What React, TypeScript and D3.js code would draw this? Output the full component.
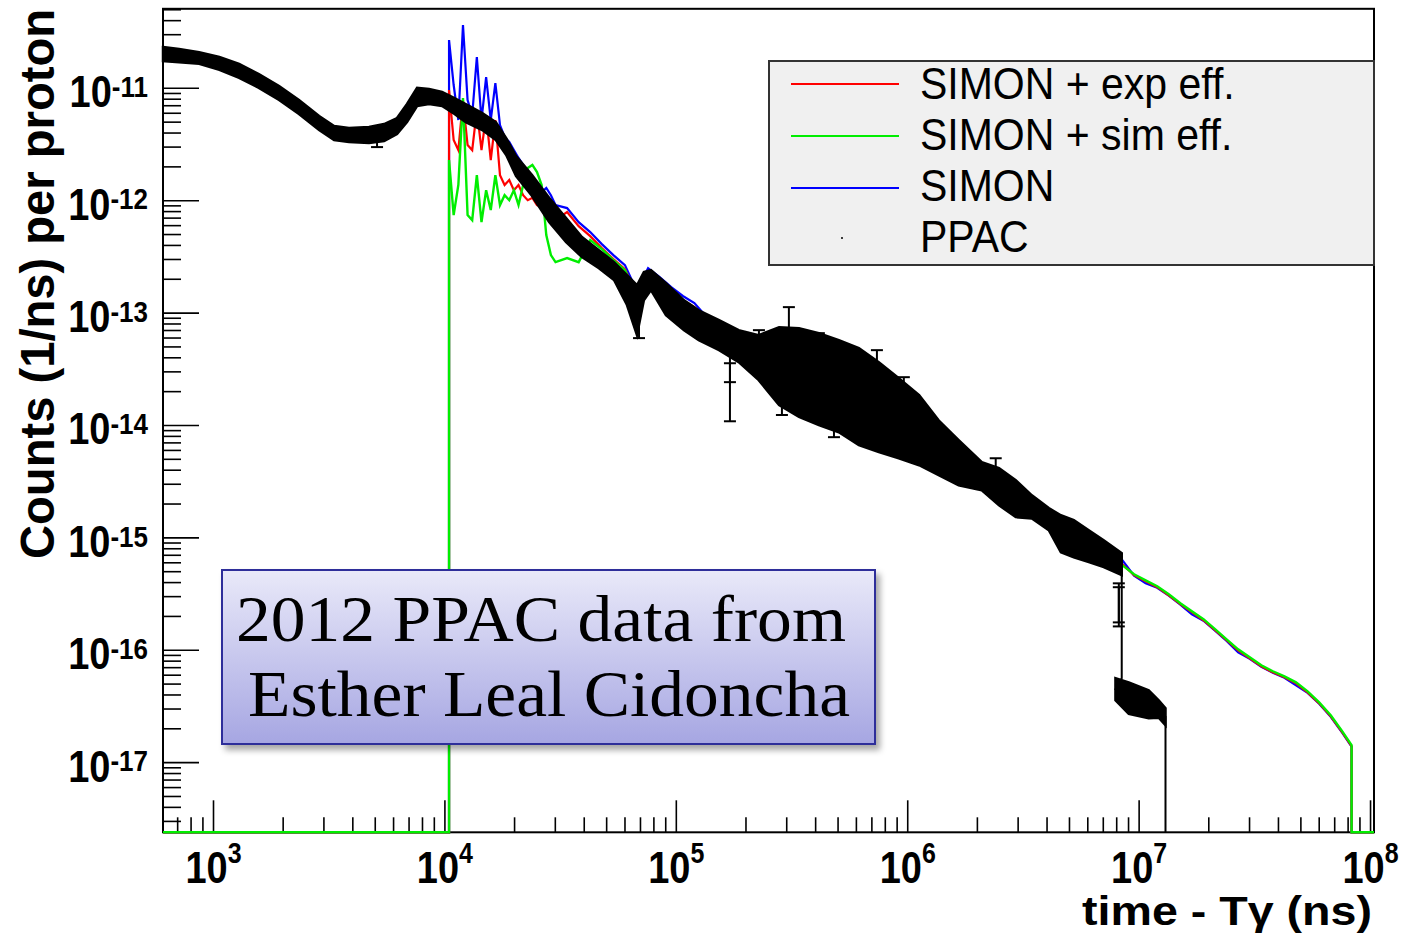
import React from "react";
import * as d3 from "d3";

// ---- Data -------------------------------------------------------------

// PPAC measurement: dense points drawn as a band between lower / upper envelope
const ppacTime = [605, 710, 867, 1060, 1290, 1570, 1920, 2340, 2860, 3320, 3850, 4700, 5460, 6210, 6860, 7580, 8540, 9720, 1.10e4, 1.23e4, 1.45e4, 1.66e4, 1.84e4, 2.03e4, 2.38e4, 2.82e4, 3.34e4, 3.91e4, 4.63e4, 5.38e4, 6.12e4, 6.76e4, 7.24e4, 7.77e4, 9.02e4, 1.08e5, 1.25e5, 1.53e5, 1.86e5, 2.27e5, 2.78e5, 3.39e5, 4.13e5, 5.04e5, 6.15e5, 7.50e5, 9.15e5, 1.12e6, 1.36e6, 1.66e6, 2.09e6, 2.48e6, 2.93e6, 3.44e6, 4.07e6, 4.59e6, 5.22e6, 6.06e6, 7.03e6, 8.41e6];
const ppacHigh = [2.33e-11, 2.24e-11, 2.10e-11, 1.90e-11, 1.65e-11, 1.34e-11, 1.05e-11, 7.87e-12, 5.67e-12, 4.62e-12, 4.43e-12, 4.52e-12, 4.81e-12, 5.44e-12, 7.25e-12, 1.01e-11, 9.86e-12, 9.27e-12, 8.20e-12, 7.25e-12, 6.03e-12, 5.01e-12, 3.61e-12, 2.50e-12, 1.69e-12, 1.06e-12, 7.01e-13, 4.75e-13, 3.63e-13, 2.84e-13, 2.18e-13, 1.77e-13, 2.32e-13, 2.41e-13, 1.85e-13, 1.30e-13, 1.06e-13, 8.66e-14, 7.05e-14, 6.37e-14, 7.50e-14, 7.35e-14, 6.63e-14, 5.74e-14, 4.88e-14, 3.66e-14, 2.64e-14, 1.86e-14, 1.11e-14, 7.40e-15, 4.71e-15, 4.17e-15, 3.26e-15, 2.39e-15, 1.84e-15, 1.59e-15, 1.44e-15, 1.17e-15, 9.53e-16, 7.30e-16];
const ppacLow = [1.75e-11, 1.71e-11, 1.65e-11, 1.46e-11, 1.24e-11, 1.01e-11, 7.87e-12, 5.90e-12, 4.25e-12, 3.47e-12, 3.33e-12, 3.26e-12, 3.40e-12, 3.92e-12, 5.01e-12, 6.96e-12, 7.25e-12, 6.96e-12, 5.90e-12, 5.01e-12, 4.25e-12, 3.47e-12, 2.55e-12, 1.66e-12, 1.10e-12, 6.45e-13, 4.28e-13, 3.15e-13, 2.51e-13, 1.97e-13, 1.18e-13, 6.37e-14, 1.30e-13, 1.60e-13, 9.59e-14, 7.05e-14, 5.74e-14, 4.68e-14, 3.66e-14, 2.53e-14, 1.52e-14, 1.19e-14, 1.01e-14, 8.71e-15, 6.68e-15, 5.79e-15, 5.11e-15, 4.43e-15, 3.61e-15, 2.94e-15, 2.65e-15, 1.95e-15, 1.53e-15, 1.49e-15, 1.17e-15, 7.46e-16, 6.73e-16, 6.08e-16, 5.49e-16, 4.66e-16];

// PPAC late-time cluster after the drop
const ppacTailTime = [7.9e6, 9.02e6, 1.10e7, 1.215e7, 1.30e7];
const ppacTailHigh = [5.64e-17, 5.18e-17, 4.40e-17, 3.59e-17, 3.05e-17];
const ppacTailLow = [3.59e-17, 2.72e-17, 2.48e-17, 2.51e-17, 2.15e-17];

// Isolated PPAC error bars
const errTime = [5090, 6.9e4, 1.705e5, 1.705e5, 3.065e5, 2.275e5, 5.85e5, 7.36e5, 9.62e5, 2.40e6, 3.40e6, 8.17e6, 8.17e6, 4.13e5, 4.80e5, 2.86e5];
const errHigh = [4.43e-12, 1.77e-13, 4.88e-14, 3.58e-14, 1.13e-13, 7.05e-14, 4.22e-14, 4.68e-14, 2.69e-14, 5.11e-15, 1.95e-15, 3.94e-16, 3.64e-16, 6.63e-14, 1.68e-14, 2.06e-14];
const errLow = [3.00e-12, 5.99e-14, 1.09e-14, 2.43e-14, 5.74e-14, 5.18e-14, 1.98e-14, 1.86e-14, 1.68e-14, 2.30e-15, 1.53e-15, 1.77e-16, 1.63e-16, 4.68e-14, 7.87e-15, 1.24e-14];

// SIMON simulations: shared bin times
const simonTime = [
  1.042e4, 1.091e4, 1.143e4, 1.197e4, 1.253e4, 1.312e4, 1.374e4, 1.439e4, 1.507e4, 1.578e4, 1.652e4, 1.730e4, 1.811e4, 1.897e4, 1.986e4, 2.080e4, 2.178e4, 2.280e4, 2.388e4, 2.500e4, 2.618e4, 2.742e4, 2.871e4, 3.006e4,
  3.373e4, 3.784e4, 4.246e4, 4.764e4, 5.346e4, 5.998e4, 6.730e4, 7.551e4, 8.472e4, 9.506e4, 1.067e5, 1.197e5, 1.343e5, 1.690e5, 2.128e5, 2.679e5, 3.373e5, 4.246e5, 5.346e5, 6.730e5, 8.472e5, 1.067e6, 1.343e6, 1.690e6, 2.128e6, 2.679e6, 3.373e6, 4.246e6, 5.346e6, 6.730e6, 8.472e6,
  9.506e6, 1.067e7, 1.197e7, 1.343e7, 1.507e7, 1.690e7, 1.897e7, 2.128e7, 2.388e7, 2.679e7, 3.006e7, 3.373e7, 3.784e7, 4.246e7, 4.764e7, 5.346e7, 5.998e7, 6.730e7, 7.551e7, 8.28e7,
];
const simonBlue = [
  2.69e-11, 1.07e-11, 5.22e-12, 3.66e-11, 7.87e-12, 5.78e-12, 1.90e-11, 5.22e-12, 1.26e-11, 5.22e-12, 1.11e-11, 4.71e-12, 3.69e-12, 3.33e-12, 2.82e-12, 2.40e-12, 2.08e-12, 1.80e-12, 1.53e-12, 1.30e-12, 1.19e-12, 1.30e-12, 1.12e-12, 9.15e-13,
  8.60e-13, 6.45e-13, 5.26e-13, 4.11e-13, 3.28e-13, 2.67e-13, 1.60e-13, 2.51e-13, 2.09e-13, 1.70e-13, 1.42e-13, 1.23e-13, 9.40e-14, 6.77e-14, 5.18e-14, 4.22e-14, 3.97e-14, 2.80e-14, 2.24e-14, 1.79e-14, 1.37e-14, 1.05e-14, 7.87e-15, 5.79e-15, 4.00e-15, 3.00e-15, 2.16e-15, 1.59e-15, 1.17e-15, 8.60e-16, 6.32e-16,
  4.60e-16, 3.94e-16, 3.60e-16, 3.06e-16, 2.54e-16, 2.09e-16, 1.83e-16, 1.49e-16, 1.21e-16, 9.59e-17, 8.40e-17, 7.13e-17, 6.31e-17, 5.68e-17, 4.88e-17, 4.18e-17, 3.34e-17, 2.56e-17, 1.84e-17, 1.39e-17,
];
const simonExpEff = [
  9.66e-12, 3.47e-12, 2.82e-12, 7.87e-12, 3.13e-12, 2.82e-12, 6.41e-12, 2.82e-12, 5.78e-12, 2.30e-12, 5.22e-12, 1.69e-12, 1.38e-12, 1.53e-12, 1.24e-12, 1.38e-12, 1.12e-12, 1.01e-12, 1.06e-12, 9.15e-13, 8.78e-13, 8.25e-13, 7.45e-13, 6.72e-13,
  7.92e-13, 5.94e-13, 4.84e-13, 3.79e-13, 3.02e-13, 2.46e-13, 1.48e-13, 2.32e-13, 1.93e-13, 1.57e-13, 1.30e-13, 1.13e-13, 8.65e-14, 6.23e-14, 4.77e-14, 3.88e-14, 3.65e-14, 2.58e-14, 2.06e-14, 1.65e-14, 1.26e-14, 9.66e-15, 7.24e-15, 5.33e-15, 3.68e-15, 2.76e-15, 1.99e-15, 1.46e-15, 1.08e-15, 7.91e-16, 5.81e-16,
  4.66e-16, 4.11e-16, 3.64e-16, 3.08e-16, 2.57e-16, 2.18e-16, 1.85e-16, 1.51e-16, 1.23e-16, 9.99e-17, 8.48e-17, 7.20e-17, 6.36e-17, 5.74e-17, 5.08e-17, 4.22e-17, 3.37e-17, 2.58e-17, 1.86e-17, 1.40e-17,
];
const simonSimEff = [
  2.30e-12, 7.45e-13, 1.38e-12, 8.20e-12, 7.45e-13, 6.72e-13, 1.69e-12, 6.45e-13, 1.24e-12, 8.25e-13, 1.69e-12, 9.15e-13, 1.12e-12, 1.01e-12, 1.24e-12, 9.15e-13, 1.38e-12, 1.95e-12, 2.08e-12, 1.80e-12, 1.38e-12, 4.94e-13, 3.28e-13, 2.84e-13,
  3.09e-13, 2.84e-13, 4.46e-13, 3.71e-13, 2.96e-13, 2.41e-13, 1.45e-13, 2.27e-13, 1.89e-13, 1.54e-13, 1.28e-13, 1.11e-13, 8.46e-14, 6.09e-14, 4.66e-14, 3.80e-14, 3.57e-14, 2.52e-14, 2.02e-14, 1.61e-14, 1.23e-14, 9.45e-15, 7.08e-15, 5.21e-15, 3.60e-15, 2.70e-15, 1.94e-15, 1.43e-15, 1.05e-15, 7.74e-16, 5.69e-16,
  4.74e-16, 4.19e-16, 3.71e-16, 3.15e-16, 2.62e-16, 2.22e-16, 1.89e-16, 1.54e-16, 1.25e-16, 1.02e-16, 8.66e-17, 7.35e-17, 6.50e-17, 5.86e-17, 5.18e-17, 4.31e-17, 3.44e-17, 2.64e-17, 1.90e-17, 1.43e-17,
];

const legendLabels = ["SIMON + exp eff.", "SIMON + sim eff.", "SIMON", "PPAC"];
const legendColors = ["#ff0000", "#00ee00", "#0000ff", "#000000"];
const xDecades = [3, 4, 5, 6, 7, 8];
const yDecades = [-11, -12, -13, -14, -15, -16, -17];
const noteLines = ["2012 PPAC data from", "Esther Leal Cidoncha"];

// ---- Layout ------------------------------------------------------------

const W = 1403;
const H = 936;
const frame = { left: 163, right: 1374, top: 8.8, bottom: 832.3 };
const xDomain: [number, number] = [605, 1.035e8];
const yDomain: [number, number] = [2.4e-18, 5.1e-11];
const SANS = "'Liberation Sans', Arial, Helvetica, sans-serif";
const SERIF = "'Liberation Serif', 'Times New Roman', serif";

export default function App() {
  const x = d3.scaleLog().domain(xDomain).range([frame.left, frame.right]);
  const y = d3.scaleLog().domain(yDomain).range([frame.bottom, frame.top]);

  // tick positions (1..9 × 10^k inside the domain)
  const xTicks: { v: number; major: boolean }[] = [];
  for (let k = 2; k <= 8; k++)
    for (let m = 1; m <= 9; m++) {
      const v = m * Math.pow(10, k);
      if (v >= xDomain[0] * 0.999 && v <= xDomain[1]) xTicks.push({ v, major: m === 1 });
    }
  const yTicks: { v: number; major: boolean }[] = [];
  for (let k = -18; k <= -11; k++)
    for (let m = 1; m <= 9; m++) {
      const v = m * Math.pow(10, k);
      if (v >= yDomain[0] && v <= yDomain[1]) yTicks.push({ v, major: m === 1 });
    }

  const line = d3
    .line<[number, number]>()
    .x((d) => x(d[0]))
    .y((d) => y(d[1]));

  // histogram outline: zero bins sit on the lower frame edge
  const simonPath = (vals: number[]) => {
    const pts: [number, number][] = [[xDomain[0], yDomain[0]], [simonTime[0], yDomain[0]]];
    simonTime.forEach((t, i) => pts.push([t, vals[i]]));
    pts.push([simonTime[simonTime.length - 1], yDomain[0]]);
    pts.push([xDomain[1], yDomain[0]]);
    return line(pts) || "";
  };

  const band = d3
    .area<number>()
    .x((i) => x(ppacTime[i]))
    .y0((i) => y(ppacLow[i]))
    .y1((i) => y(ppacHigh[i]));
  const tailBand = d3
    .area<number>()
    .x((i) => x(ppacTailTime[i]))
    .y0((i) => y(ppacTailLow[i]))
    .y1((i) => y(ppacTailHigh[i]));

  const centre: [number, number][] = [];
  ppacTime.forEach((t, i) => centre.push([t, Math.sqrt(ppacHigh[i] * ppacLow[i])]));
  centre.push([ppacTime[ppacTime.length - 1], ppacTailHigh[0]]);
  ppacTailTime.forEach((t, i) => centre.push([t, Math.sqrt(ppacTailHigh[i] * ppacTailLow[i])]));
  centre.push([ppacTailTime[ppacTailTime.length - 1], yDomain[0]]);

  const legend = { x: 769, y: 61, w: 605, h: 204 };
  const entryY = [84, 136, 188, 238];
  const textBaseline = [99, 150, 201, 252];

  const note = { x: 222, y: 570, w: 653, h: 174 };

  return (
    <svg width={W} height={H} style={{ position: "absolute", left: 0, top: 0, background: "#fff" }}>
      <defs>
        <linearGradient id="noteFill" x1="0" y1="0" x2="0" y2="1">
          <stop offset="0" stopColor="#e9e9f9" />
          <stop offset="1" stopColor="#a6a6e2" />
        </linearGradient>
        <filter id="noteShadow" x="-10%" y="-10%" width="130%" height="140%">
          <feDropShadow dx="4" dy="5" stdDeviation="3" floodColor="#000" floodOpacity="0.35" />
        </filter>
      </defs>
      <rect width={W} height={H} fill="#fff" />

      {/* frame */}
      <rect
        x={frame.left}
        y={frame.top}
        width={frame.right - frame.left}
        height={frame.bottom - frame.top}
        fill="none"
        stroke="#000"
        strokeWidth={2}
      />

      {/* x ticks */}
      {xTicks.map((t, i) => (
        <line
          key={"xt" + i}
          x1={x(t.v)}
          x2={x(t.v)}
          y1={frame.bottom}
          y2={frame.bottom - (t.major ? 32 : 15)}
          stroke="#000"
          strokeWidth={1.6}
        />
      ))}
      {/* y ticks */}
      {yTicks.map((t, i) => (
        <line
          key={"yt" + i}
          x1={frame.left}
          x2={frame.left + (t.major ? 36 : 18)}
          y1={y(t.v)}
          y2={y(t.v)}
          stroke="#000"
          strokeWidth={1.6}
        />
      ))}

      {/* x tick labels */}
      {xDecades.map((k) => (
        <g key={"xl" + k} transform={`translate(${x(Math.pow(10, k))},883) scale(1,1.15)`}>
          <text textAnchor="middle" fontFamily={SANS} fontWeight="bold" fontSize={38} fill="#000">
            10
            <tspan fontSize={25} dy={-17}>
              {k}
            </tspan>
          </text>
        </g>
      ))}
      {/* y tick labels */}
      {yDecades.map((k) => (
        <g key={"yl" + k} transform={`translate(148,${y(Math.pow(10, k)) + 19}) scale(1,1.15)`}>
          <text textAnchor="end" fontFamily={SANS} fontWeight="bold" fontSize={38} fill="#000">
            10
            <tspan fontSize={26} dy={-9}>
              {"-" + Math.abs(k)}
            </tspan>
          </text>
        </g>
      ))}

      {/* axis titles */}
      <text
        transform="translate(54,9) rotate(-90)"
        textAnchor="end"
        fontFamily={SANS}
        fontWeight="bold"
        fontSize={48}
        textLength={550}
        lengthAdjust="spacingAndGlyphs"
        fill="#000"
      >
        Counts (1/ns) per proton
      </text>
      <text
        x={1372}
        y={925}
        textAnchor="end"
        fontFamily={SANS}
        fontWeight="bold"
        fontSize={40}
        textLength={290}
        lengthAdjust="spacingAndGlyphs"
        fill="#000"
      >
        time - Tγ (ns)
      </text>

      {/* SIMON simulations */}
      <path d={simonPath(simonBlue)} fill="none" stroke="#0000ff" strokeWidth={2.2} />
      <path d={simonPath(simonExpEff)} fill="none" stroke="#ff0000" strokeWidth={2.2} />
      <path d={simonPath(simonSimEff)} fill="none" stroke="#00ee00" strokeWidth={2.4} />

      {/* PPAC data */}
      <path d={band(d3.range(ppacTime.length)) || ""} fill="#000" stroke="#000" strokeWidth={2.5} />
      <path d={tailBand(d3.range(ppacTailTime.length)) || ""} fill="#000" stroke="#000" strokeWidth={2.5} />
      <path d={line(centre) || ""} fill="none" stroke="#000" strokeWidth={2} />
      {errTime.map((t, i) => {
        const cx = x(t);
        const y1 = y(errHigh[i]);
        const y2 = y(errLow[i]);
        return (
          <g key={"eb" + i} stroke="#000" strokeWidth={2}>
            <line x1={cx} x2={cx} y1={y1} y2={y2} />
            <line x1={cx - 6} x2={cx + 6} y1={y1} y2={y1} />
            <line x1={cx - 6} x2={cx + 6} y1={y2} y2={y2} />
          </g>
        );
      })}

      {/* legend */}
      <rect x={legend.x} y={legend.y} width={legend.w} height={legend.h} fill="#f0f0f0" stroke="#333" strokeWidth={2} />
      {legendLabels.map((lab, i) => (
        <g key={"lg" + i}>
          {i < 3 ? (
            <line x1={791} x2={899} y1={entryY[i]} y2={entryY[i]} stroke={legendColors[i]} strokeWidth={2.2} />
          ) : (
            <circle cx={842} cy={entryY[i]} r={1} fill={legendColors[i]} />
          )}
          <g transform={`translate(920,${textBaseline[i]}) scale(1,1.08)`}>
            <text fontFamily={SANS} fontSize={41} fill="#000">
              {lab}
            </text>
          </g>
        </g>
      ))}

      {/* note box */}
      <rect
        x={note.x}
        y={note.y}
        width={note.w}
        height={note.h}
        fill="url(#noteFill)"
        stroke="#2e2e9a"
        strokeWidth={2}
        filter="url(#noteShadow)"
      />
      <text
        x={236}
        y={641}
        fontFamily={SERIF}
        fontSize={66}
        textLength={610}
        lengthAdjust="spacingAndGlyphs"
        fill="#000"
      >
        {noteLines[0]}
      </text>
      <text
        x={248}
        y={716}
        fontFamily={SERIF}
        fontSize={66}
        textLength={602}
        lengthAdjust="spacingAndGlyphs"
        fill="#000"
      >
        {noteLines[1]}
      </text>
    </svg>
  );
}
